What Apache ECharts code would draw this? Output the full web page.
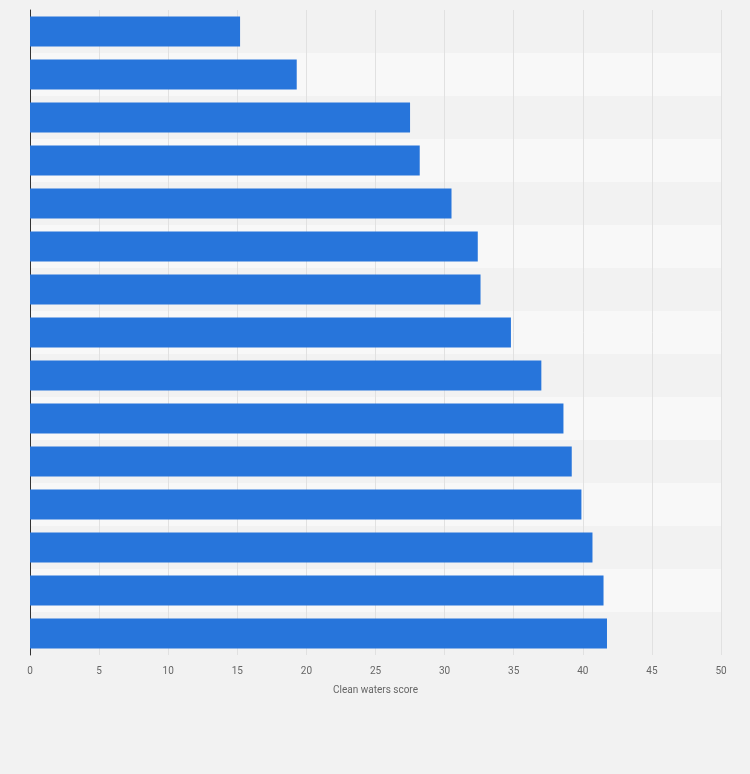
<!DOCTYPE html>
<html>
<head>
<meta charset="utf-8">
<script src="https://cdn.jsdelivr.net/npm/echarts@6/dist/echarts.min.js"></script>
<style>
  html, body { margin: 0; padding: 0; background: #f2f2f2; }
  #chart { width: 750px; height: 774px; }
</style>
</head>
<body>
<div id="chart"></div>
<script>
// category labels are not shown in the picture, only the bars
const categories = ['c1', 'c2', 'c3', 'c4', 'c5', 'c6', 'c7', 'c8', 'c9', 'c10', 'c11', 'c12', 'c13', 'c14', 'c15'];
const scores = [15.2, 19.3, 27.5, 28.2, 30.5, 32.4, 32.6, 34.8, 37.0, 38.6, 39.2, 39.9, 40.7, 41.5, 41.75];
const xTicks = [0, 5, 10, 15, 20, 25, 30, 35, 40, 45, 50];

const chart = echarts.init(document.getElementById('chart'));
const option = {
  backgroundColor: '#f2f2f2',
  animation: false,
  grid: { left: 30, right: 29, top: 10, bottom: 119 },
  xAxis: {
    type: 'value',
    min: xTicks[0],
    max: xTicks[xTicks.length - 1],
    interval: 5,
    name: 'Clean waters score',
    nameLocation: 'middle',
    nameGap: 30,
    nameTextStyle: { color: '#666', fontSize: 10, fontFamily: 'Roboto' },
    axisLine: { show: false },
    axisTick: { show: false },
    axisLabel: { color: '#666', fontSize: 10, fontFamily: 'Roboto', margin: 11 },
    splitLine: { show: true, lineStyle: { color: '#e1e1e1', width: 1 } }
  },
  yAxis: {
    type: 'category',
    data: categories,
    inverse: true,
    axisLabel: { show: false },
    axisTick: { show: false },
    axisLine: { show: true, lineStyle: { color: '#333', width: 1 } },
    splitArea: { show: true, areaStyle: { color: ['#f2f2f2', '#f8f8f8'] } }
  },
  series: [{
    type: 'bar',
    data: scores,
    barCategoryGap: '30%',
    itemStyle: { color: '#2775db' }
  }]
};
chart.setOption(option);
</script>
</body>
</html>
